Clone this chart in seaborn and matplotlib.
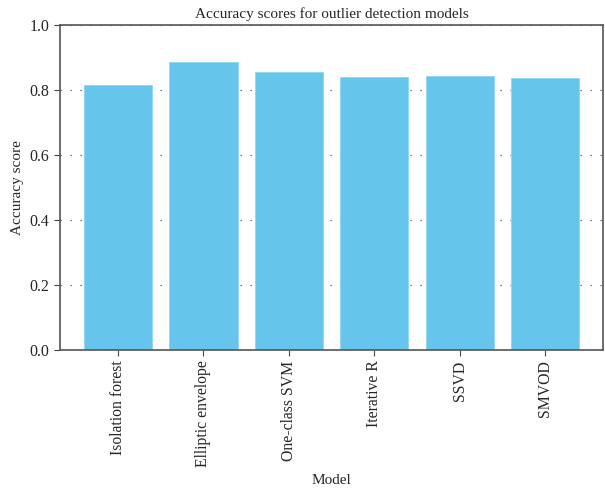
# %% libraries
# ------------

import matplotlib
matplotlib.use('Agg')
import matplotlib.pyplot as plt
import seaborn as sns
import pandas as pd


# %% data
# -------

models = ['Isolation forest', 'Elliptic envelope', 'One-class SVM',
          'Iterative R', 'SSVD', 'SMVOD']
scores = [0.815, 0.885, 0.854, 0.839, 0.843, 0.836]
y_ticks = [0.0, 0.2, 0.4, 0.6, 0.8, 1.0]

df = pd.DataFrame({'Model': models, 'Accuracy score': scores})


# %% barplot
# ----------

sns.set_style('ticks')
plt.rcParams['font.family'] = ['Liberation Serif', 'DejaVu Serif']

# create figure
fig = plt.figure(figsize=(6.05, 4.91), dpi=100)
ax = fig.add_axes([0.099, 0.287, 0.898, 0.662])

# grid behind the bars
ax.set_axisbelow(True)
ax.yaxis.grid(True, linestyle=(0, (1, 7)), color='#555555', linewidth=0.9)

# bars
sns.barplot(data=df, x='Model', y='Accuracy score', color='#66c5eb',
            saturation=1, width=0.8, edgecolor='#8fd6f2', linewidth=0.6,
            ax=ax)

# axes
ax.set_ylim(0, 1.0)
ax.set_xlim(-0.68, 5.68)
ax.set_yticks(y_ticks)
ax.set_yticklabels(['%.1f' % t for t in y_ticks], fontsize=11.5)
ax.tick_params(axis='x', labelrotation=90, labelsize=11.3, length=4,
               color='#444444')
ax.tick_params(axis='y', length=4, color='#444444')
ax.set_xlabel('Model', fontsize=11, labelpad=5)
ax.set_ylabel('Accuracy score', fontsize=11)
for s in ax.spines.values():
    s.set_visible(True)
    s.set_color('#555555')
    s.set_linewidth(1.2)

# title
ax.set_title('Accuracy scores for outlier detection models', fontsize=11,
             pad=5)

fig.savefig('out.png', dpi=100)
